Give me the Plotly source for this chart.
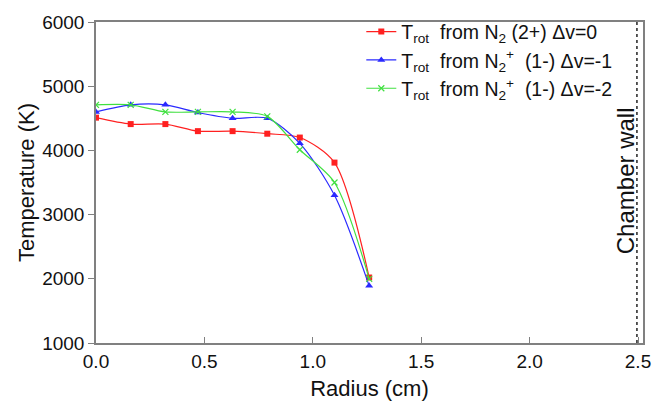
import plotly.graph_objects as go

# Radial positions (cm) of the measurement points
radius = [0.0, 0.16, 0.32, 0.47, 0.63, 0.79, 0.94, 1.10, 1.26]

# Rotational temperatures (K)
t_n2_2plus = [4510, 4410, 4410, 4300, 4300, 4260, 4200, 3810, 2020]
t_n2p_dv1 = [4600, 4710, 4710, 4590, 4500, 4500, 4110, 3300, 1890]
t_n2p_dv2 = [4710, 4710, 4600, 4600, 4600, 4530, 4010, 3500, 2000]

x_ticks = [0.0, 0.5, 1.0, 1.5, 2.0, 2.5]
y_ticks = [1000, 2000, 3000, 4000, 5000, 6000]
wall_position = 2.495

names = [
    "T<sub>rot</sub>  from N<sub>2</sub> (2+) Δv=0",
    "T<sub>rot</sub>  from N<sub>2</sub><sup>+</sup>  (1-) Δv=-1",
    "T<sub>rot</sub>  from N<sub>2</sub><sup>+</sup>  (1-) Δv=-2",
]

fig = go.Figure()
fig.add_trace(go.Scatter(
    x=radius, y=t_n2_2plus, name=names[0], mode="lines+markers",
    line=dict(color="#ff2020", width=1.2, shape="spline", smoothing=0.8),
    marker=dict(symbol="square", size=6, color="#ff2020"),
))
fig.add_trace(go.Scatter(
    x=radius, y=t_n2p_dv1, name=names[1], mode="lines+markers",
    line=dict(color="#2a2aff", width=1.2, shape="spline", smoothing=0.8),
    marker=dict(symbol="triangle-up", size=7, color="#2a2aff"),
))
fig.add_trace(go.Scatter(
    x=radius, y=t_n2p_dv2, name=names[2], mode="lines+markers",
    line=dict(color="#40e040", width=1.2, shape="spline", smoothing=0.8),
    marker=dict(symbol="x-thin", size=6, color="#40e040",
                line=dict(width=1.2, color="#40e040")),
))

# Chamber wall marker
fig.add_shape(type="line", x0=wall_position, x1=wall_position, y0=1000, y1=6000,
              xref="x", yref="y", line=dict(color="#222222", width=1.5, dash="dot"))
fig.add_annotation(x=2.44, y=3520, xref="x", yref="y", text="Chamber wall",
                   textangle=-90, showarrow=False,
                   font=dict(size=24, color="#111111"))

axis_common = dict(
    showline=True, linecolor="#808080", linewidth=1.5, mirror=True,
    showgrid=False, zeroline=False, ticklen=6, tickcolor="#808080",
    tickfont=dict(size=19, color="#111111"),
)

fig.update_xaxes(range=[0, 2.523], tickvals=x_ticks,
                 ticktext=[f"{v:.1f}" for v in x_ticks], ticks="inside",
                 title=dict(text="Radius (cm)", font=dict(size=22, color="#111111"), standoff=10),
                 **axis_common)
fig.update_yaxes(range=[1000, 6000], tickvals=y_ticks, ticks="outside",
                 title=dict(text="Temperature (K)", font=dict(size=22, color="#111111"), standoff=1),
                 **axis_common)

fig.update_layout(
    width=667, height=409,
    margin=dict(l=96, r=24, t=12, b=64),
    paper_bgcolor="white", plot_bgcolor="white",
    font=dict(family="Liberation Sans, Arial, sans-serif", color="#111111"),
    showlegend=True,
    legend=dict(x=0.485, y=1.03, xanchor="left", yanchor="top",
                bgcolor="rgba(255,255,255,0)", font=dict(size=19.5),
                itemwidth=30, tracegroupgap=0),
)

fig.write_html("out.html")
